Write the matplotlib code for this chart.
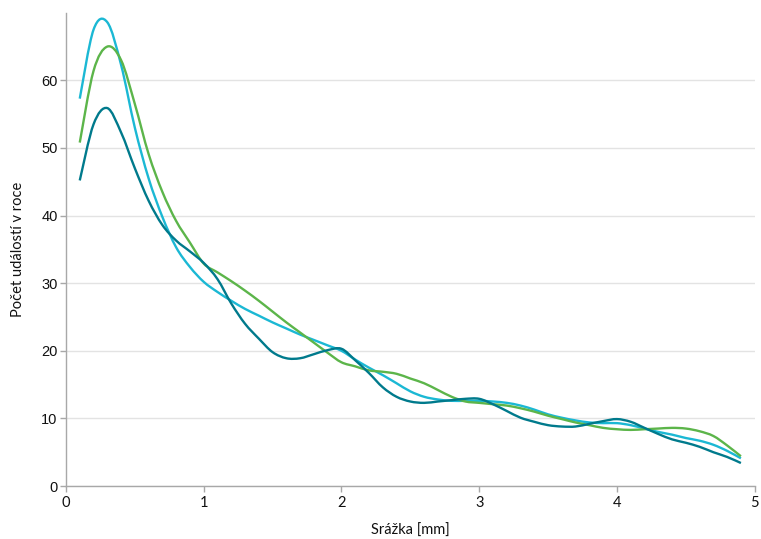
import matplotlib
matplotlib.use("Agg")
import matplotlib.pyplot as plt
import numpy as np
from matplotlib.path import Path
from matplotlib.patches import PathPatch

# Srážka [mm]
x_mm = np.round(np.arange(1, 50) * 0.1, 1)

teal = [45.2, 53.5, 55.9, 52.3, 47.0, 42.2, 38.6, 36.3, 34.7, 33.0,
        30.6, 27.0, 24.0, 21.8, 19.8, 18.9, 18.9, 19.5, 20.1, 20.3,
        18.6, 16.7, 14.6, 13.2, 12.5, 12.3, 12.5, 12.7, 12.9, 12.9,
        12.1, 11.1, 10.1, 9.5, 9.0, 8.8, 8.8, 9.2, 9.6, 9.9,
        9.5, 8.6, 7.7, 6.9, 6.4, 5.8, 5.0, 4.3, 3.4]

cyan = [57.3, 67.5, 68.6, 62.3, 53.0, 45.5, 39.8, 35.3, 32.4, 30.2,
        28.7, 27.4, 26.2, 25.2, 24.2, 23.3, 22.4, 21.6, 20.8, 20.0,
        18.7, 17.5, 16.4, 15.2, 14.0, 13.2, 12.8, 12.6, 12.6, 12.6,
        12.5, 12.3, 11.9, 11.3, 10.6, 10.1, 9.7, 9.4, 9.3, 9.3,
        9.0, 8.5, 8.0, 7.6, 7.1, 6.7, 6.1, 5.2, 4.1]

green = [50.8, 61.4, 65.0, 63.0, 56.5, 49.1, 43.5, 39.2, 36.0, 32.9,
         31.6, 30.3, 28.9, 27.4, 25.8, 24.2, 22.7, 21.2, 19.7, 18.3,
         17.7, 17.1, 16.9, 16.6, 15.9, 15.2, 14.2, 13.2, 12.5, 12.3,
         12.1, 11.9, 11.5, 11.0, 10.4, 9.9, 9.4, 9.0, 8.6, 8.4,
         8.3, 8.4, 8.5, 8.6, 8.5, 8.1, 7.4, 6.0, 4.4]

x_ticks = [0, 1, 2, 3, 4, 5]
y_ticks = [0, 10, 20, 30, 40, 50, 60]


def smooth_path(xs, ys):
    # smoothed line like the spreadsheet one: cubic Bezier through every point
    pts = np.column_stack([xs, ys]).astype(float)
    n = len(pts)
    verts = [pts[0]]
    codes = [Path.MOVETO]
    for i in range(n - 1):
        p0 = pts[max(i - 1, 0)]
        p1 = pts[i]
        p2 = pts[i + 1]
        p3 = pts[min(i + 2, n - 1)]
        c1 = p1 + (p2 - p0) / 6.0
        c2 = p2 - (p3 - p1) / 6.0
        verts += [c1, c2, p2]
        codes += [Path.CURVE4] * 3
    return Path(verts, codes)


fig = plt.figure(figsize=(7.61, 5.39), dpi=100)
ax = fig.add_axes([0.0867, 0.0983, 0.905, 0.878])

for ys, col, z in [(cyan, "#1bb8d4", 3), (green, "#5cb54a", 3), (teal, "#007a8c", 4)]:
    ax.add_patch(PathPatch(smooth_path(x_mm, ys), facecolor="none",
                           edgecolor=col, lw=1.7, zorder=z, capstyle="butt"))

ax.set_xlim(0, 5)
ax.set_ylim(0, 70)
ax.set_xticks(x_ticks)
ax.set_yticks(y_ticks)
ax.set_xticklabels([str(v) for v in x_ticks], family="Lato", fontsize=10.5)
ax.set_yticklabels([str(v) for v in y_ticks], family="Liberation Sans", fontsize=10.5)

ax.grid(axis="y", color="#e3e3e3", lw=1.0)
ax.set_axisbelow(True)
for s in ["top", "right"]:
    ax.spines[s].set_visible(False)
for s in ["left", "bottom"]:
    ax.spines[s].set_color("#a8a8a8")
    ax.spines[s].set_linewidth(1.0)
ax.tick_params(axis="both", colors="#a8a8a8", labelcolor="#111111", length=4, width=1.0)
ax.tick_params(axis="x", pad=3)
ax.tick_params(axis="y", pad=2)

ax.set_xlabel("Srážka [mm]", family="Lato", fontsize=10.5, color="#111111", labelpad=10)
ax.set_ylabel("Počet událostí v roce", family="Lato", fontsize=10.5, color="#111111", labelpad=12)

fig.savefig("out.png", dpi=100)
